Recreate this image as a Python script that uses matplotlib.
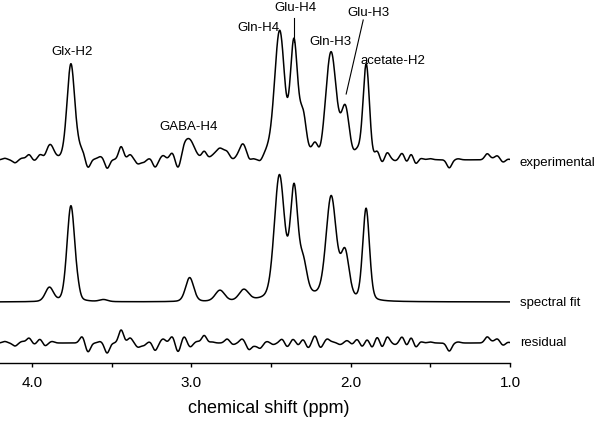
import numpy as np
import matplotlib
matplotlib.use('Agg')
import matplotlib.pyplot as plt
from matplotlib.transforms import blended_transform_factory

plt.rcParams['font.family'] = ['Liberation Sans', 'DejaVu Sans']

# ---- spectral fit components (ppm, height, FWHM ppm) ----
fit_ppm    = [3.89, 3.755, 3.71, 3.55, 3.01, 2.82, 2.67, 2.447, 2.355, 2.298, 2.122, 2.035, 1.903, 2.30]
fit_height = [14,   96,    4,    2,    24,   11,   11,   121,   105,   31,    101,   46,    92,    6]
fit_fwhm   = [0.06, 0.058, 0.03, 0.06, 0.06, 0.07, 0.07, 0.075, 0.055, 0.055, 0.075, 0.06,  0.05,  0.40]
lorentz_frac = 0.2

# ---- residual wiggles (ppm, amplitude) ----
resid_ppm = [4.170, 4.106, 4.060, 4.018, 3.985, 3.949, 3.918, 3.874, 3.685, 3.648,
             3.572, 3.528, 3.440, 3.384, 3.334, 3.300, 3.258, 3.227, 3.177, 3.120,
             3.083, 3.045, 3.007, 2.963, 2.919, 2.869, 2.775, 2.737, 2.681, 2.637,
             2.600, 2.568, 2.524, 2.486, 2.430, 2.398, 2.361, 2.329, 2.298, 2.267,
             2.223, 2.191, 2.147, 2.110, 2.066, 2.022, 1.990, 1.959, 1.928, 1.896,
             1.865, 1.833, 1.802, 1.771, 1.720, 1.676, 1.648, 1.620, 1.592, 1.563,
             1.501, 1.381, 1.325, 1.143, 1.111, 1.080, 1.042, 1.017]
resid_amp = [1.5, -3.0, 1.5, 5.0, -1.5, 4.0, -3.0, 1.5, 6.5, -9.0,
             1.5, -10.0, 13.0, 5.0, -4.0, -2.5, 1.5, -7.5, 4.0, 6.5,
             -9.0, 6.5, -4.0, 1.5, 7.5, 1.0, 4.0, -1.5, 4.0, -6.5,
             -2.5, -5.0, 1.5, -1.5, 4.0, -4.0, 4.0, -2.5, 4.0, -5.0,
             7.5, -5.0, 4.0, 1.0, -1.5, 2.5, -1.5, 4.0, -4.0, 4.0,
             -5.0, 6.5, -5.0, 6.5, -1.5, 6.5, -4.0, 6.5, -5.0, 1.5,
             1.0, -8.0, 1.0, 6.0, 1.0, 4.0, -2.5, 1.0]
resid_fwhm = 0.036

trace_names = ['experimental', 'spectral fit', 'residual']
trace_offsets = [142, 0, -41]
trace_label_y = [139, -1, -41]

labels = ['Glx-H2', 'GABA-H4', 'Gln-H4', 'Glu-H4', 'Gln-H3', 'Glu-H3', 'acetate-H2']
label_x = [3.748, 3.02, 2.58, 2.348, 2.128, 1.89, 1.733]
label_y = [250, 175, 274, 294, 260, 289, 241]

ppm = np.linspace(4.2, 1.0, 3000)

def pvoigt(x, c, h, w, eta):
    s = w / 2.3548
    g = np.exp(-0.5 * ((x - c) / s) ** 2)
    l = 1.0 / (1.0 + ((x - c) / (w / 2)) ** 2)
    return h * ((1 - eta) * g + eta * l)

fit = np.zeros_like(ppm)
for c, h, w in zip(fit_ppm, fit_height, fit_fwhm):
    fit += pvoigt(ppm, c, h, w, lorentz_frac)

resid = np.zeros_like(ppm)
for c, a in zip(resid_ppm, resid_amp):
    resid += pvoigt(ppm, c, a, resid_fwhm, 0.0)

exper = fit + resid

fig = plt.figure(figsize=(6.0, 4.23), dpi=100)
ax = fig.add_axes([0.0, 60 / 423, 510 / 600, 363 / 423])

lw = 1.1
ax.plot(ppm, exper + trace_offsets[0], color='black', lw=lw)
ax.plot(ppm, fit + trace_offsets[1], color='black', lw=lw)
ax.plot(ppm, resid + trace_offsets[2], color='black', lw=lw)

ax.set_xlim(4.2, 1.0)
ax.set_ylim(-61, 302)

for s in ['left', 'right', 'top']:
    ax.spines[s].set_visible(False)
ax.spines['bottom'].set_linewidth(1.0)
ax.set_yticks([])
ax.set_xticks([4.0, 3.0, 2.0, 1.0])
ax.set_xticklabels(['4.0', '3.0', '2.0', '1.0'])
ax.set_xticks([3.5, 2.5, 1.5], minor=True)
ax.tick_params(axis='x', which='both', direction='out', length=3, width=1.0,
               labelsize=11, pad=6)
fig.text(269 / 600, 1 - 408 / 423, 'chemical shift (ppm)', fontsize=13,
         ha='center', va='center')

trans = blended_transform_factory(ax.transAxes, ax.transData)
for name, yy in zip(trace_names, trace_label_y):
    ax.text(1.0196, yy, name, transform=trans, fontsize=9.5, ha='left', va='center')

for t, x, y in zip(labels, label_x, label_y):
    ax.text(x, y, t, fontsize=9.5, ha='center', va='center')

# leader lines
ax.plot([2.354, 2.354], [284, 260], color='black', lw=0.8)
ax.plot([1.921, 2.028], [282, 208], color='black', lw=0.8)

fig.savefig('out.png', dpi=100)
